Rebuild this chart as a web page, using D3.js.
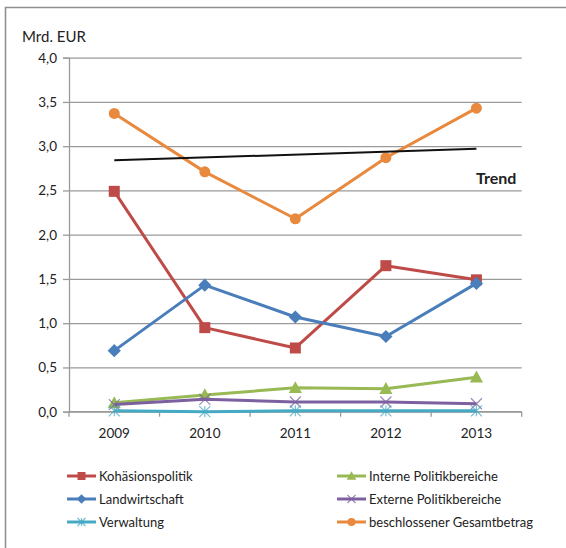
<!DOCTYPE html>
<html>
<head>
<meta charset="utf-8">
<script src="https://cdn.jsdelivr.net/npm/d3@7"></script>
<style>
  body { margin: 0; background: #fff; }
  text { font-family: Lato, "Open Sans", sans-serif; fill: #222; }
</style>
</head>
<body>
<div id="chart"></div>
<script>
// chart data
const years = ["2009", "2010", "2011", "2012", "2013"];
const kohaesion = [2.49, 0.95, 0.72, 1.65, 1.49];
const interne = [0.10, 0.19, 0.27, 0.26, 0.39];
const landwirtschaft = [0.69, 1.43, 1.07, 0.85, 1.45];
const externe = [0.08, 0.14, 0.11, 0.11, 0.09];
const verwaltung = [0.01, 0.00, 0.01, 0.01, 0.01];
const gesamt = [3.37, 2.71, 2.18, 2.87, 3.43];
const trendYears = ["2009", "2013"];
const trendValues = [2.84, 2.97];
const yTicks = [0, 0.5, 1, 1.5, 2, 2.5, 3, 3.5, 4];

const series = [
    { name: "Kohäsionspolitik", values: kohaesion, color: "#BE4B48", marker: "square" },
    { name: "Interne Politikbereiche", values: interne, color: "#98B954", marker: "triangle" },
    { name: "Landwirtschaft", values: landwirtschaft, color: "#4A7EBB", marker: "diamond" },
    { name: "Externe Politikbereiche", values: externe, color: "#7D60A0", marker: "x" },
    { name: "Verwaltung", values: verwaltung, color: "#46AAC5", marker: "star" },
    { name: "beschlossener Gesamtbetrag", values: gesamt, color: "#E8893D", marker: "circle" }
];

const width = 566, height = 548;
const margin = { top: 57.7, left: 69, right: 44.3, bottom: 136.3 };
const plotW = width - margin.left - margin.right;
const plotH = height - margin.top - margin.bottom;

const svg = d3.select("#chart").append("svg")
    .attr("width", width)
    .attr("height", height);

// outer frame (left and top only, the picture is cut)
svg.append("path")
    .attr("d", "M5.5," + height + "V7.5H" + width)
    .attr("fill", "none")
    .attr("stroke", "#8f8f8f")
    .attr("stroke-width", 1.6);

const x = d3.scaleBand().domain(years).range([0, plotW]);
const y = d3.scaleLinear().domain([0, 4]).range([plotH, 0]);
const cx = d => x(d) + x.bandwidth() / 2;

const g = svg.append("g")
    .attr("transform", "translate(" + margin.left + "," + margin.top + ")");

// gridlines + y axis
const yAxis = d3.axisLeft(y).tickValues(yTicks).tickSize(6).tickPadding(6)
    .tickFormat(d => d3.format(".1f")(d).replace(".", ","));
const gy = g.append("g").call(yAxis);
gy.select(".domain").attr("stroke", "#9a9a9a").attr("stroke-width", 1.3);
gy.selectAll(".tick line").attr("stroke", "#9a9a9a").attr("stroke-width", 1.3);
gy.selectAll(".tick text").style("font-size", "13.5px").attr("fill", "#222");
gy.selectAll(".tick").append("line")
    .attr("x1", 0).attr("x2", plotW)
    .attr("stroke", "#9a9a9a").attr("stroke-width", 1.3);

// x axis with ticks between categories
const gx = g.append("g").attr("transform", "translate(0," + plotH + ")");
gx.append("line").attr("x1", 0).attr("x2", plotW)
    .attr("stroke", "#9a9a9a").attr("stroke-width", 1.3);
gx.selectAll(".sep").data(years.concat(["end"])).join("line")
    .attr("x1", (d, i) => i * x.step()).attr("x2", (d, i) => i * x.step())
    .attr("y1", 0).attr("y2", 5)
    .attr("stroke", "#9a9a9a").attr("stroke-width", 1.3);
gx.selectAll(".lbl").data(years).join("text")
    .attr("x", d => cx(d)).attr("y", 26)
    .attr("text-anchor", "middle")
    .style("font-size", "13.5px")
    .text(d => d);

// unit label
svg.append("text").attr("x", 22).attr("y", 42)
    .style("font-size", "15px").text("Mrd. EUR");

// marker shapes
function drawMarker(sel, type, color, s) {
    if (type === "square") {
        sel.append("rect").attr("x", -s / 2).attr("y", -s / 2).attr("width", s).attr("height", s)
            .attr("fill", color);
    } else if (type === "diamond") {
        const r = s * 0.6;
        sel.append("path").attr("d", `M0,${-r}L${r},0L0,${r}L${-r},0Z`).attr("fill", color);
    } else if (type === "triangle") {
        const r = s * 0.6;
        sel.append("path").attr("d", `M0,${-r}L${r},${r * 0.8}L${-r},${r * 0.8}Z`).attr("fill", color);
    } else if (type === "circle") {
        sel.append("circle").attr("r", s / 2).attr("fill", color);
    } else if (type === "x" || type === "star") {
        const r = s / 2;
        let d = `M${-r},${-r}L${r},${r}M${-r},${r}L${r},${-r}`;
        if (type === "star") d += `M0,${-r}V${r}`;
        sel.append("path").attr("d", d).attr("stroke", color).attr("stroke-width", 1.2)
            .attr("fill", "none").attr("opacity", 0.75);
    }
}

const line = d3.line().x((d, i) => cx(years[i])).y(d => y(d));

series.forEach(s => {
    const sg = g.append("g");
    sg.append("path").datum(s.values)
        .attr("d", line)
        .attr("fill", "none")
        .attr("stroke", s.color)
        .attr("stroke-width", 3)
        .attr("stroke-linejoin", "round");
    s.values.forEach((v, i) => {
        const m = sg.append("g").attr("transform", `translate(${cx(years[i])},${y(v)})`);
        drawMarker(m, s.marker, s.color, 11);
    });
});

// trend line
g.append("line")
    .attr("x1", cx(trendYears[0])).attr("y1", y(trendValues[0]))
    .attr("x2", cx(trendYears[1])).attr("y2", y(trendValues[1]))
    .attr("stroke", "#111").attr("stroke-width", 2);
svg.append("text").attr("x", 476).attr("y", 184)
    .style("font-size", "16px").style("font-weight", "bold").attr("fill", "#111")
    .text("Trend");

// legend, two columns, row-wise order
const legend = svg.append("g");
series.forEach((s, i) => {
    const col = i % 2, row = Math.floor(i / 2);
    const lg = legend.append("g")
        .attr("transform", `translate(${col === 0 ? 67 : 337},${476 + row * 23})`);
    lg.append("line").attr("x1", 0).attr("x2", 29)
        .attr("stroke", s.color).attr("stroke-width", 3);
    const m = lg.append("g").attr("transform", "translate(14.5,0)");
    drawMarker(m, s.marker, s.color, 8);
    lg.append("text").attr("x", 32).attr("y", 4.5)
        .style("font-size", "13px").text(s.name);
});
</script>
</body>
</html>
